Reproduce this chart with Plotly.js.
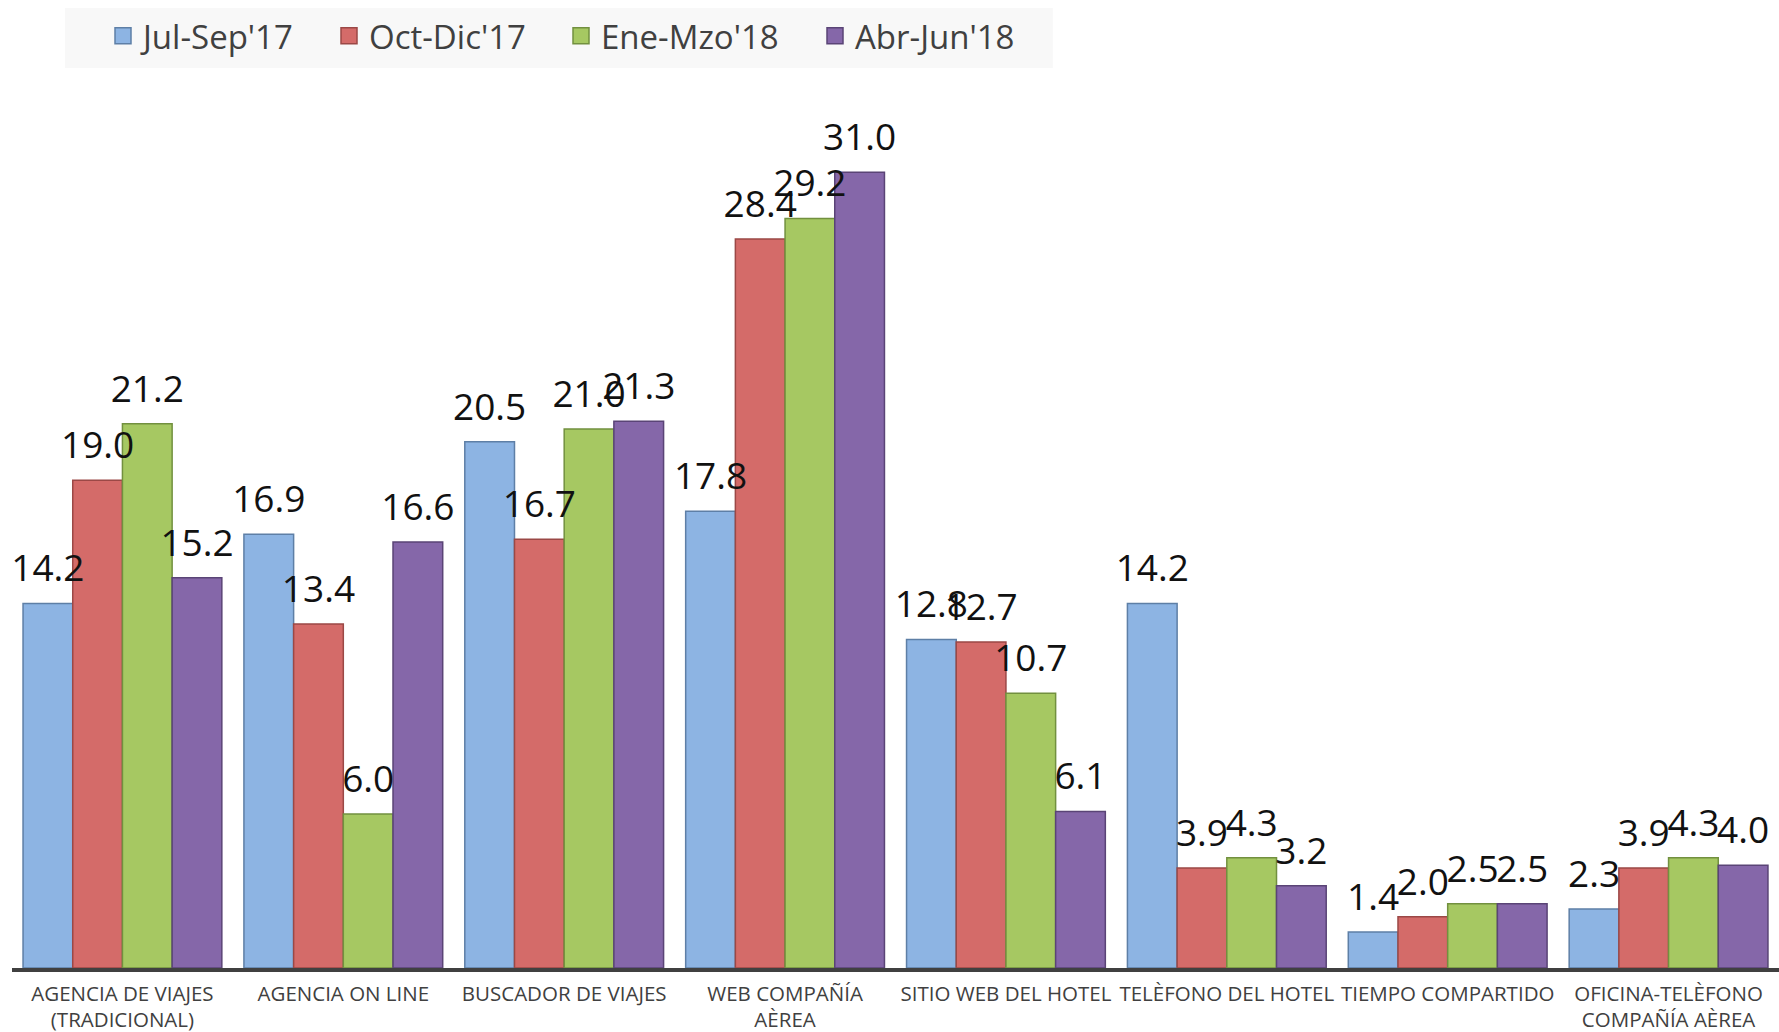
<!DOCTYPE html>
<html>
<head>
<meta charset="utf-8">
<script src="https://cdn.plot.ly/plotly-3.0.1.min.js"></script>
<style>
html,body{margin:0;padding:0;background:#fff;}
#chart{width:1779px;height:1032px;}
</style>
</head>
<body>
<div id="chart"></div>
<script>
const categories = [
  "AGENCIA DE VIAJES<br>(TRADICIONAL)",
  "AGENCIA ON LINE",
  "BUSCADOR DE VIAJES",
  "WEB COMPAÑÍA<br>AÈREA",
  "SITIO WEB DEL HOTEL",
  "TELÈFONO DEL HOTEL",
  "TIEMPO COMPARTIDO",
  "OFICINA-TELÈFONO<br>COMPAÑÍA AÈREA"
];
const seriesNames = ["Jul-Sep'17", "Oct-Dic'17", "Ene-Mzo'18", "Abr-Jun'18"];
const julSep17 = [14.2, 16.9, 20.5, 17.8, 12.8, 14.2, 1.4, 2.3];
const octDic17 = [19.0, 13.4, 16.7, 28.4, 12.7, 3.9, 2.0, 3.9];
const eneMzo18 = [21.2, 6.0, 21.0, 29.2, 10.7, 4.3, 2.5, 4.3];
const abrJun18 = [15.2, 16.6, 21.3, 31.0, 6.1, 3.2, 2.5, 4.0];

const seriesValues = [julSep17, octDic17, eneMzo18, abrJun18];
const fills = ["#8DB4E3", "#D46B69", "#A6C862", "#8567A9"];
const edges = ["#5E7FA6", "#9B4846", "#72903F", "#5A4476"];
const legendWidths = [181, 187, 209, 190];

const barTraces = seriesValues.map((vals, i) => ({
  type: "bar",
  name: seriesNames[i],
  x: categories,
  y: vals,
  marker: {color: fills[i], line: {color: edges[i], width: 1.5}},
  showlegend: false,
  hoverinfo: "skip"
}));

// value labels drawn above all bars (scatter layer sits on top of bars)
const labelTraces = seriesValues.map((vals, i) => ({
  type: "scatter",
  mode: "markers+text",
  name: seriesNames[i] + " labels",
  x: categories,
  y: vals,
  texttemplate: "%{y:.1f}",
  textposition: "top center",
  textfont: {family: "'Open Sans', sans-serif", size: 37, color: "#111111"},
  marker: {size: 19, opacity: 0, color: fills[i]},
  cliponaxis: false,
  showlegend: false,
  hoverinfo: "skip"
}));

// legend carriers on a hidden overlay subplot
const legendTraces = seriesNames.map((n, i) => ({
  type: "scatter",
  mode: "markers",
  name: n,
  x: [null],
  y: [null],
  xaxis: "x2",
  yaxis: "y2",
  legendwidth: legendWidths[i],
  marker: {symbol: "square", size: 16, color: fills[i], line: {color: edges[i], width: 1.5}},
  showlegend: true,
  hoverinfo: "skip"
}));

const layout = {
  width: 1779,
  height: 1032,
  margin: {l: 12, r: 0, t: 121, b: 64},
  paper_bgcolor: "#ffffff",
  plot_bgcolor: "#ffffff",
  barmode: "group",
  bargap: 0.1,
  bargroupgap: 0,
  scattermode: "group",
  scattergap: 0.1,
  showlegend: true,
  legend: {
    orientation: "h",
    x: 0.0515, xanchor: "left",
    y: 1.1005, yanchor: "middle",
    bgcolor: "rgba(0,0,0,0)",
    font: {family: "'Open Sans', sans-serif", size: 33, color: "#404040"},
    itemclick: false,
    itemdoubleclick: false,
    traceorder: "normal"
  },
  shapes: [{
    type: "rect", xref: "paper", yref: "paper",
    x0: 0.030, x1: 0.589, y0: 1.0626, y1: 1.1334,
    fillcolor: "#F8F8F8", line: {width: 0}, layer: "below"
  }],
  xaxis: {
    type: "category",
    showline: true,
    linecolor: "#404040",
    linewidth: 4,
    ticks: "",
    ticklabelstandoff: 4,
    showgrid: false,
    zeroline: false,
    tickfont: {family: "'Open Sans', sans-serif", size: 20.5, color: "#404040"},
    tickangle: 0,
    automargin: false
  },
  yaxis: {
    range: [0, 33],
    visible: false,
    showgrid: false,
    zeroline: false
  },
  xaxis2: {overlaying: "x", visible: false, range: [0, 1]},
  yaxis2: {overlaying: "y", visible: false, range: [0, 1]}
};

Plotly.newPlot("chart", barTraces.concat(labelTraces, legendTraces), layout, {staticPlot: true, displayModeBar: false});
</script>
</body>
</html>
